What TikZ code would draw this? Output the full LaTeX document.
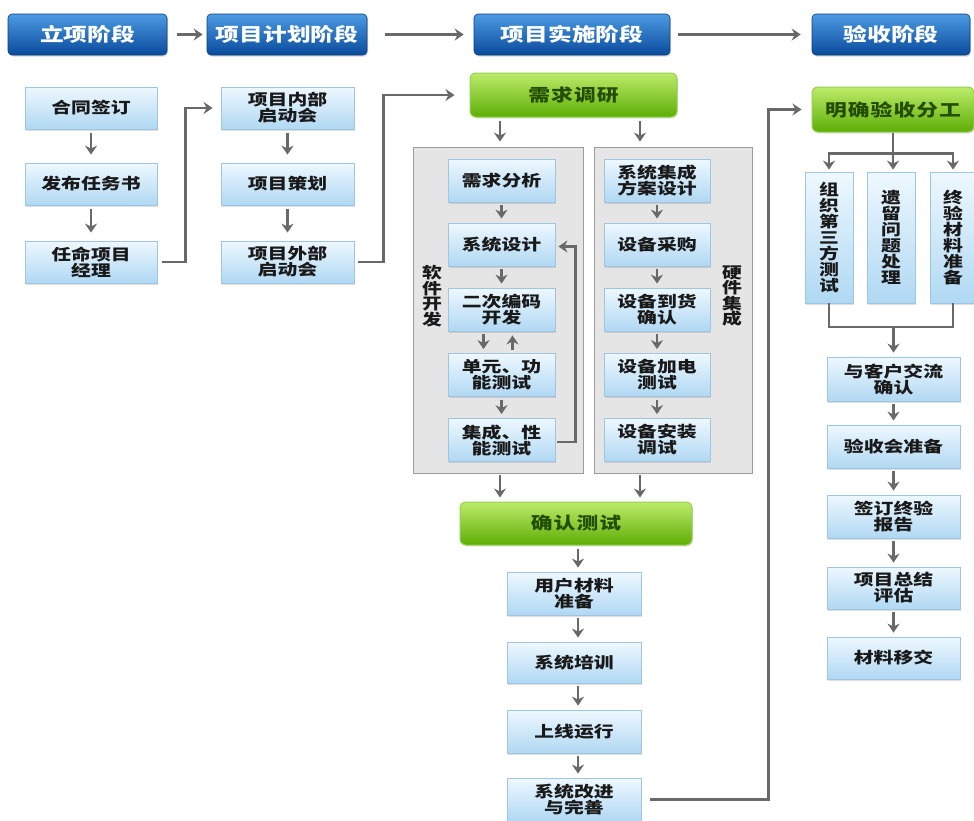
\documentclass[tikz,border=0pt]{standalone}
\usepackage{fontspec}
\setmainfont{Noto Sans CJK SC}[FakeStretch=1.28]
\usetikzlibrary{arrows.meta,shadows}
\definecolor{boxtop}{HTML}{EEF8FF}
\definecolor{boxbot}{HTML}{B0D8F3}
\definecolor{boxline}{HTML}{9EC6E2}
\definecolor{hdrtop}{HTML}{4C9BE3}
\definecolor{hdrmid}{HTML}{1D68C2}
\definecolor{hdrbot}{HTML}{0A4A9C}
\definecolor{hdrline}{HTML}{0B3F80}
\definecolor{grntop}{HTML}{BDEB6A}
\definecolor{grnbot}{HTML}{5DAE05}
\definecolor{grnline}{HTML}{96CF52}
\definecolor{grntext}{HTML}{234D00}
\definecolor{panelfill}{HTML}{E5E5E5}
\definecolor{panelline}{HTML}{9C9C9C}
\definecolor{arrgray}{HTML}{696969}
\begin{document}
\begin{tikzpicture}[x=1pt,y=1pt,
  box/.style={draw=boxline, line width=0.8pt, top color=boxtop, bottom color=boxbot,
    inner sep=0pt, align=center, text=black!90,
    font=\fontsize{15.5}{16}\selectfont\bfseries,
    drop shadow={shadow xshift=1.2pt, shadow yshift=-1.5pt, opacity=0.25}},
  hdr/.style={draw=hdrline, line width=0.6pt, rounded corners=4pt, top color=hdrtop, middle color=hdrmid, bottom color=hdrbot,
    text=white, inner sep=0pt, minimum height=41pt, font=\fontsize{18.5}{20}\selectfont\bfseries,
    drop shadow={shadow xshift=1pt, shadow yshift=-1.5pt, opacity=0.3}},
  grn/.style={draw=grnline, line width=1pt, rounded corners=6pt, top color=grntop, bottom color=grnbot,
    text=grntext, inner sep=0pt, font=\fontsize{17}{19}\selectfont\bfseries\addfontfeature{LetterSpace=6},
    drop shadow={shadow xshift=1pt, shadow yshift=-1.5pt, opacity=0.2}},
  panel/.style={draw=panelline, line width=0.8pt, fill=panelfill, inner sep=0pt},
  vlabel/.style={inner sep=0pt, align=center, text=black!90, font=\fontsize{15.5}{15.5}\selectfont\bfseries},
  ln/.style={draw=arrgray, line width=2.8pt},
  arr/.style={ln, -{Stealth[length=9pt,width=12pt,inset=3pt]}},
  sarr/.style={arr, shorten <=3pt, shorten >=4pt},
  colA/.style={box, minimum width=132pt, minimum height=42pt},
  colS/.style={box, minimum width=107pt, minimum height=43pt},
  colR/.style={box, minimum width=106pt, minimum height=43pt},
  colD/.style={box, minimum width=134pt, minimum height=43pt},
  colE/.style={box, minimum width=133pt, minimum height=43pt},
  colV/.style={box, minimum width=48pt, minimum height=131pt, font=\fontsize{15.5}{16}\selectfont\bfseries}
]
\useasboundingbox (0,0) rectangle (974,-820);
\fill[white] (0,0) rectangle (974,-820);

% headers
\node[hdr, minimum width=159pt] (h1) at (87.5,-34.5) {立项阶段};
\node[hdr, minimum width=160pt] (h2) at (287,-34.5) {项目计划阶段};
\node[hdr, minimum width=196pt] (h3) at (572,-34.5) {项目实施阶段};
\node[hdr, minimum width=158pt] (h4) at (891,-34.5) {验收阶段};
\draw[arr, line width=2.2pt, shorten <=10pt, shorten >=4pt] (h1) -- (h2);
\draw[arr, line width=2.2pt, shorten <=18pt, shorten >=10pt] (h2) -- (h3);
\draw[arr, line width=2.2pt, shorten <=8pt, shorten >=11pt] (h3) -- (h4);

% column 1
\node[colA] (a1) at (91,-108) {合同签订};
\node[colA] (a2) at (91,-184) {发布任务书};
\node[colA] (a3) at (91,-262) {任命项目\\经理};
\draw[arr, shorten <=4pt, shorten >=8pt] (a1) -- (a2);
\draw[arr, shorten <=4pt, shorten >=8pt] (a2) -- (a3);

% column 2
\node[colA, minimum width=133pt] (b1) at (287.5,-108) {项目内部\\启动会};
\node[colA, minimum width=133pt] (b2) at (287.5,-184) {项目策划};
\node[colA, minimum width=133pt] (b3) at (287.5,-262) {项目外部\\启动会};
\draw[arr, shorten <=4pt, shorten >=8pt] (b1) -- (b2);
\draw[arr, shorten <=4pt, shorten >=8pt] (b2) -- (b3);
\draw[arr, line width=2.5pt, shorten <=5pt, shorten >=8pt] (a3.east) -- ([xshift=28pt]a3.east) |- (b1.west);

% implementation
\node[grn, minimum width=207pt, minimum height=44pt] (g1) at (573.5,-95) {需求调研};
\draw[arr, line width=2.5pt, shorten <=4pt, shorten >=15pt] (b3.east) -- ([xshift=29pt]b3.east) |- (g1.west);

\node[panel, minimum width=170pt, minimum height=326pt] (P1) at (498,-310) {};
\node[panel, minimum width=158pt, minimum height=326pt] (P2) at (673,-310) {};
\coordinate (ca) at (500,0);
\coordinate (cb) at (640,0);
\draw[arr, shorten <=3pt, shorten >=5pt] (g1.south -| ca) -- (P1.north -| ca);
\draw[arr, shorten <=3pt, shorten >=5pt] (g1.south -| cb) -- (P2.north -| cb);

\node[colS] (s1) at (501.5,-180.5) {需求分析};
\node[colS] (s2) at (501.5,-244.5) {系统设计};
\node[colS] (s3) at (501.5,-309.5) {二次编码\\开发};
\node[colS] (s4) at (501.5,-375) {单元、功\\能测试};
\node[colS] (s5) at (501.5,-440) {集成、性\\能测试};
\draw[sarr] (s1) -- (s2);
\draw[sarr] (s2) -- (s3);
\draw[sarr] ([xshift=-18pt]s3.south) -- ([xshift=-18pt]s4.north);
\draw[sarr] ([xshift=11pt]s4.north) -- ([xshift=11pt]s3.south);
\draw[sarr] (s4) -- (s5);
\draw[arr, line width=2.2pt, shorten <=2pt, shorten >=3pt] ([yshift=-2pt]s5.east) -- ++(20,0) |- ([yshift=-2pt]s2.east);
\node[vlabel] (sw) at (432,-296) {软\\件\\开\\发};

\node[colR] (r1) at (657,-180.5) {系统集成\\方案设计};
\node[colR] (r2) at (657,-244.5) {设备采购};
\node[colR] (r3) at (657,-309.5) {设备到货\\确认};
\node[colR] (r4) at (657,-375) {设备加电\\测试};
\node[colR] (r5) at (657,-440) {设备安装\\调试};
\draw[sarr] (r1) -- (r2);
\draw[sarr] (r2) -- (r3);
\draw[sarr] (r3) -- (r4);
\draw[sarr] (r4) -- (r5);
\node[vlabel] (hw) at (732,-296) {硬\\件\\集\\成};

\node[grn, minimum width=232pt, minimum height=43pt] (g2) at (576,-523.5) {确认测试};
\draw[arr, shorten <=2pt, shorten >=4pt] (P1.south -| ca) -- (g2.north -| ca);
\draw[arr, shorten <=2pt, shorten >=4pt] (P2.south -| cb) -- (g2.north -| cb);

\node[colD] (d1) at (574,-593.5) {用户材料\\准备};
\node[colD, minimum height=41pt] (d2) at (574,-662.5) {系统培训};
\node[colD] (d3) at (574,-731.5) {上线运行};
\node[colD] (d4) at (574,-799.5) {系统改进\\与完善};
\coordinate (cd) at (578,0);
\draw[sarr] (g2.south -| cd) -- (d1.north -| cd);
\draw[sarr] (d1.south -| cd) -- (d2.north -| cd);
\draw[sarr] (d2.south -| cd) -- (d3.north -| cd);
\draw[sarr] (d3.south -| cd) -- (d4.north -| cd);

% acceptance
\node[grn, minimum width=162pt, minimum height=45pt] (g3) at (893,-109.5) {明确验收分工};
\draw[arr, line width=2.5pt, shorten <=9pt, shorten >=10pt] (d4.east) -- ++(127,0) |- (g3.west);

\node[colV] (v1) at (829,-237.5) {组\\织\\第\\三\\方\\测\\试};
\node[colV] (v2) at (891,-237.5) {遗\\留\\问\\题\\处\\理};
\node[colV, minimum width=46pt] (v3) at (953,-237.5) {终\\验\\材\\料\\准\\备};
\draw[ln] (g3.south) -- ++(0,-21) coordinate (spl);
\draw[ln] (spl -| v1) -- (spl -| v3);
\draw[arr, shorten >=2pt] ([yshift=1.4pt]spl -| v1) -- (v1.north);
\draw[arr, shorten >=2pt] ([yshift=1.4pt]spl) -- (spl |- v2.north);
\draw[arr, shorten >=2pt] ([yshift=1.4pt]spl -| v3) -- (v3.north);

\node[colE, minimum height=44pt] (e1) at (893.5,-379) {与客户交流\\确认};
\node[colE] (e2) at (893.5,-446.5) {验收会准备};
\node[colE] (e3) at (893.5,-516.5) {签订终验\\报告};
\node[colE, minimum height=42pt] (e4) at (893.5,-588) {项目总结\\评估};
\node[colE, minimum height=42pt] (e5) at (893.5,-658) {材料移交};
\coordinate (mrg) at (0,-327);
\draw[ln] (v1.south) -- (v1.south |- mrg) -- (v3.south |- mrg) -- (v3.south);
\draw[arr, shorten >=4pt] ([yshift=1.4pt]e1.north |- mrg) -- (e1.north);
\draw[sarr] (e1) -- (e2);
\draw[sarr] (e2) -- (e3);
\draw[sarr] (e3) -- (e4);
\draw[sarr] (e4) -- (e5);
\end{tikzpicture}
\end{document}
